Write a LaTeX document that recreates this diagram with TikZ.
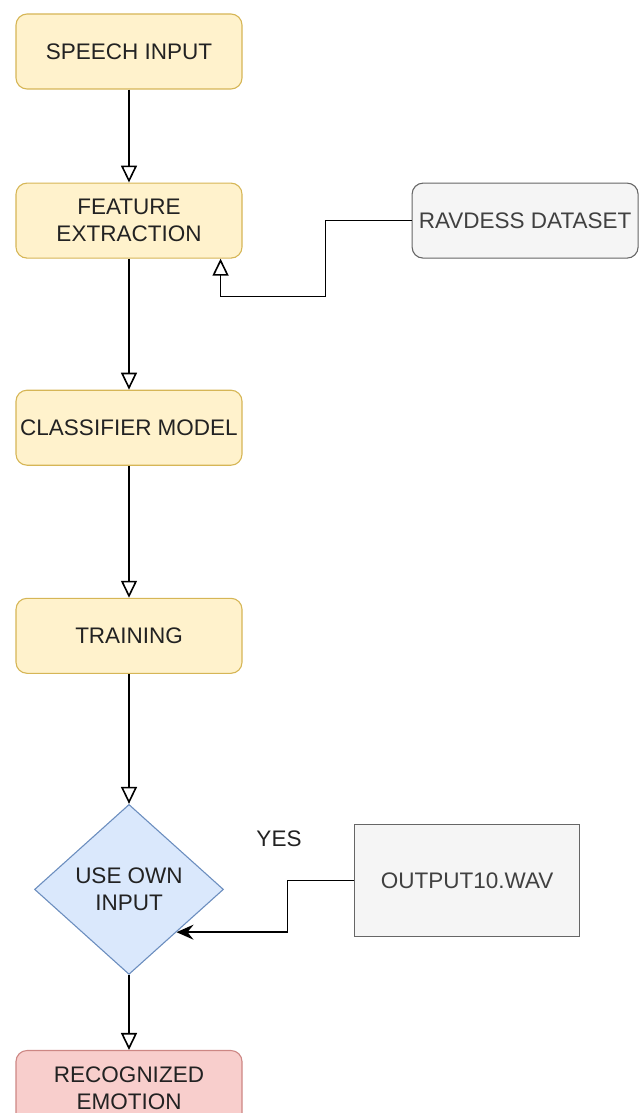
\documentclass[tikz,border=0pt]{standalone}
\usepackage{fontspec}
\setmainfont{Liberation Sans}
\usetikzlibrary{positioning,shapes.geometric,arrows.meta,calc}

\definecolor{yfill}{HTML}{FFF2CC}
\definecolor{ydraw}{HTML}{D6B656}
\definecolor{gfill}{HTML}{F5F5F5}
\definecolor{gdraw}{HTML}{666666}
\definecolor{bfill}{HTML}{DAE8FC}
\definecolor{bdraw}{HTML}{6C8EBF}
\definecolor{rfill}{HTML}{F8CECC}
\definecolor{rdraw}{HTML}{B85450}
\definecolor{txt}{HTML}{222222}

\begin{document}
\begin{tikzpicture}[font=\fontsize{22.5}{27}\selectfont]
      \tikzstyle{process}=[rectangle, rounded corners=11pt, minimum width=226pt, minimum height=75pt, line width=1.1pt, align=center, text=txt, inner sep=0pt]
      \tikzstyle{yellowbox}=[process, fill=yfill, draw=ydraw]
      \tikzstyle{redbox}=[process, fill=rfill, draw=rdraw!70]
      \tikzstyle{greybox}=[process, fill=gfill, draw=gdraw, text=black!75]
      \tikzstyle{decision}=[diamond, minimum width=189pt, minimum height=170pt, inner sep=0pt, line width=1.1pt, fill=bfill, draw=bdraw, align=center, text=txt]
      \tikzstyle{connect}=[-{Triangle[open, length=17pt, width=16pt]}, line width=1.6pt]
      \tikzstyle{feed}=[-{Stealth[length=17pt, width=15pt, inset=6pt]}, line width=1.6pt]

      \useasboundingbox (0,0) rectangle (640pt,-1113pt);

      % main column
      \node[yellowbox] (speech) at (129pt,-51.5pt) {SPEECH INPUT};
      \node[yellowbox] (feat) [below=93pt of speech] {FEATURE\\EXTRACTION};
      \node[yellowbox] (clf) [below=131pt of feat] {CLASSIFIER MODEL};
      \node[yellowbox] (train) [below=132pt of clf] {TRAINING};
      \node[decision] (own) [below=130pt of train] {USE OWN\\INPUT};
      \node[redbox] (emotion) [below=75pt of own] {RECOGNIZED\\EMOTION};

      % side inputs
      \node[greybox] (ravdess) [right=169pt of feat] {RAVDESS DATASET};
      \node[greybox, rounded corners=0pt, minimum width=225pt, minimum height=112pt] (wav) [right=130pt of own, yshift=9pt] {OUTPUT10.WAV};
      \node[text=txt] (yes) at (279pt,-839pt) {YES};

      \coordinate (kink) at ([xshift=83pt,yshift=-38pt]feat.south east);
      \coordinate (bend) at ([xshift=111pt]own.south east);

      \path (speech) edge [connect] (feat)
        (feat) edge [connect] (clf)
        (clf) edge [connect] (train)
        (train) edge [connect] (own)
        (own) edge [connect] (emotion);

      \draw[connect] (ravdess.west) -| (kink) -| ([xshift=-22pt]feat.south east);
      \draw[feed] (wav.west) -| (bend) -- (own.south east);

\end{tikzpicture}
\end{document}
